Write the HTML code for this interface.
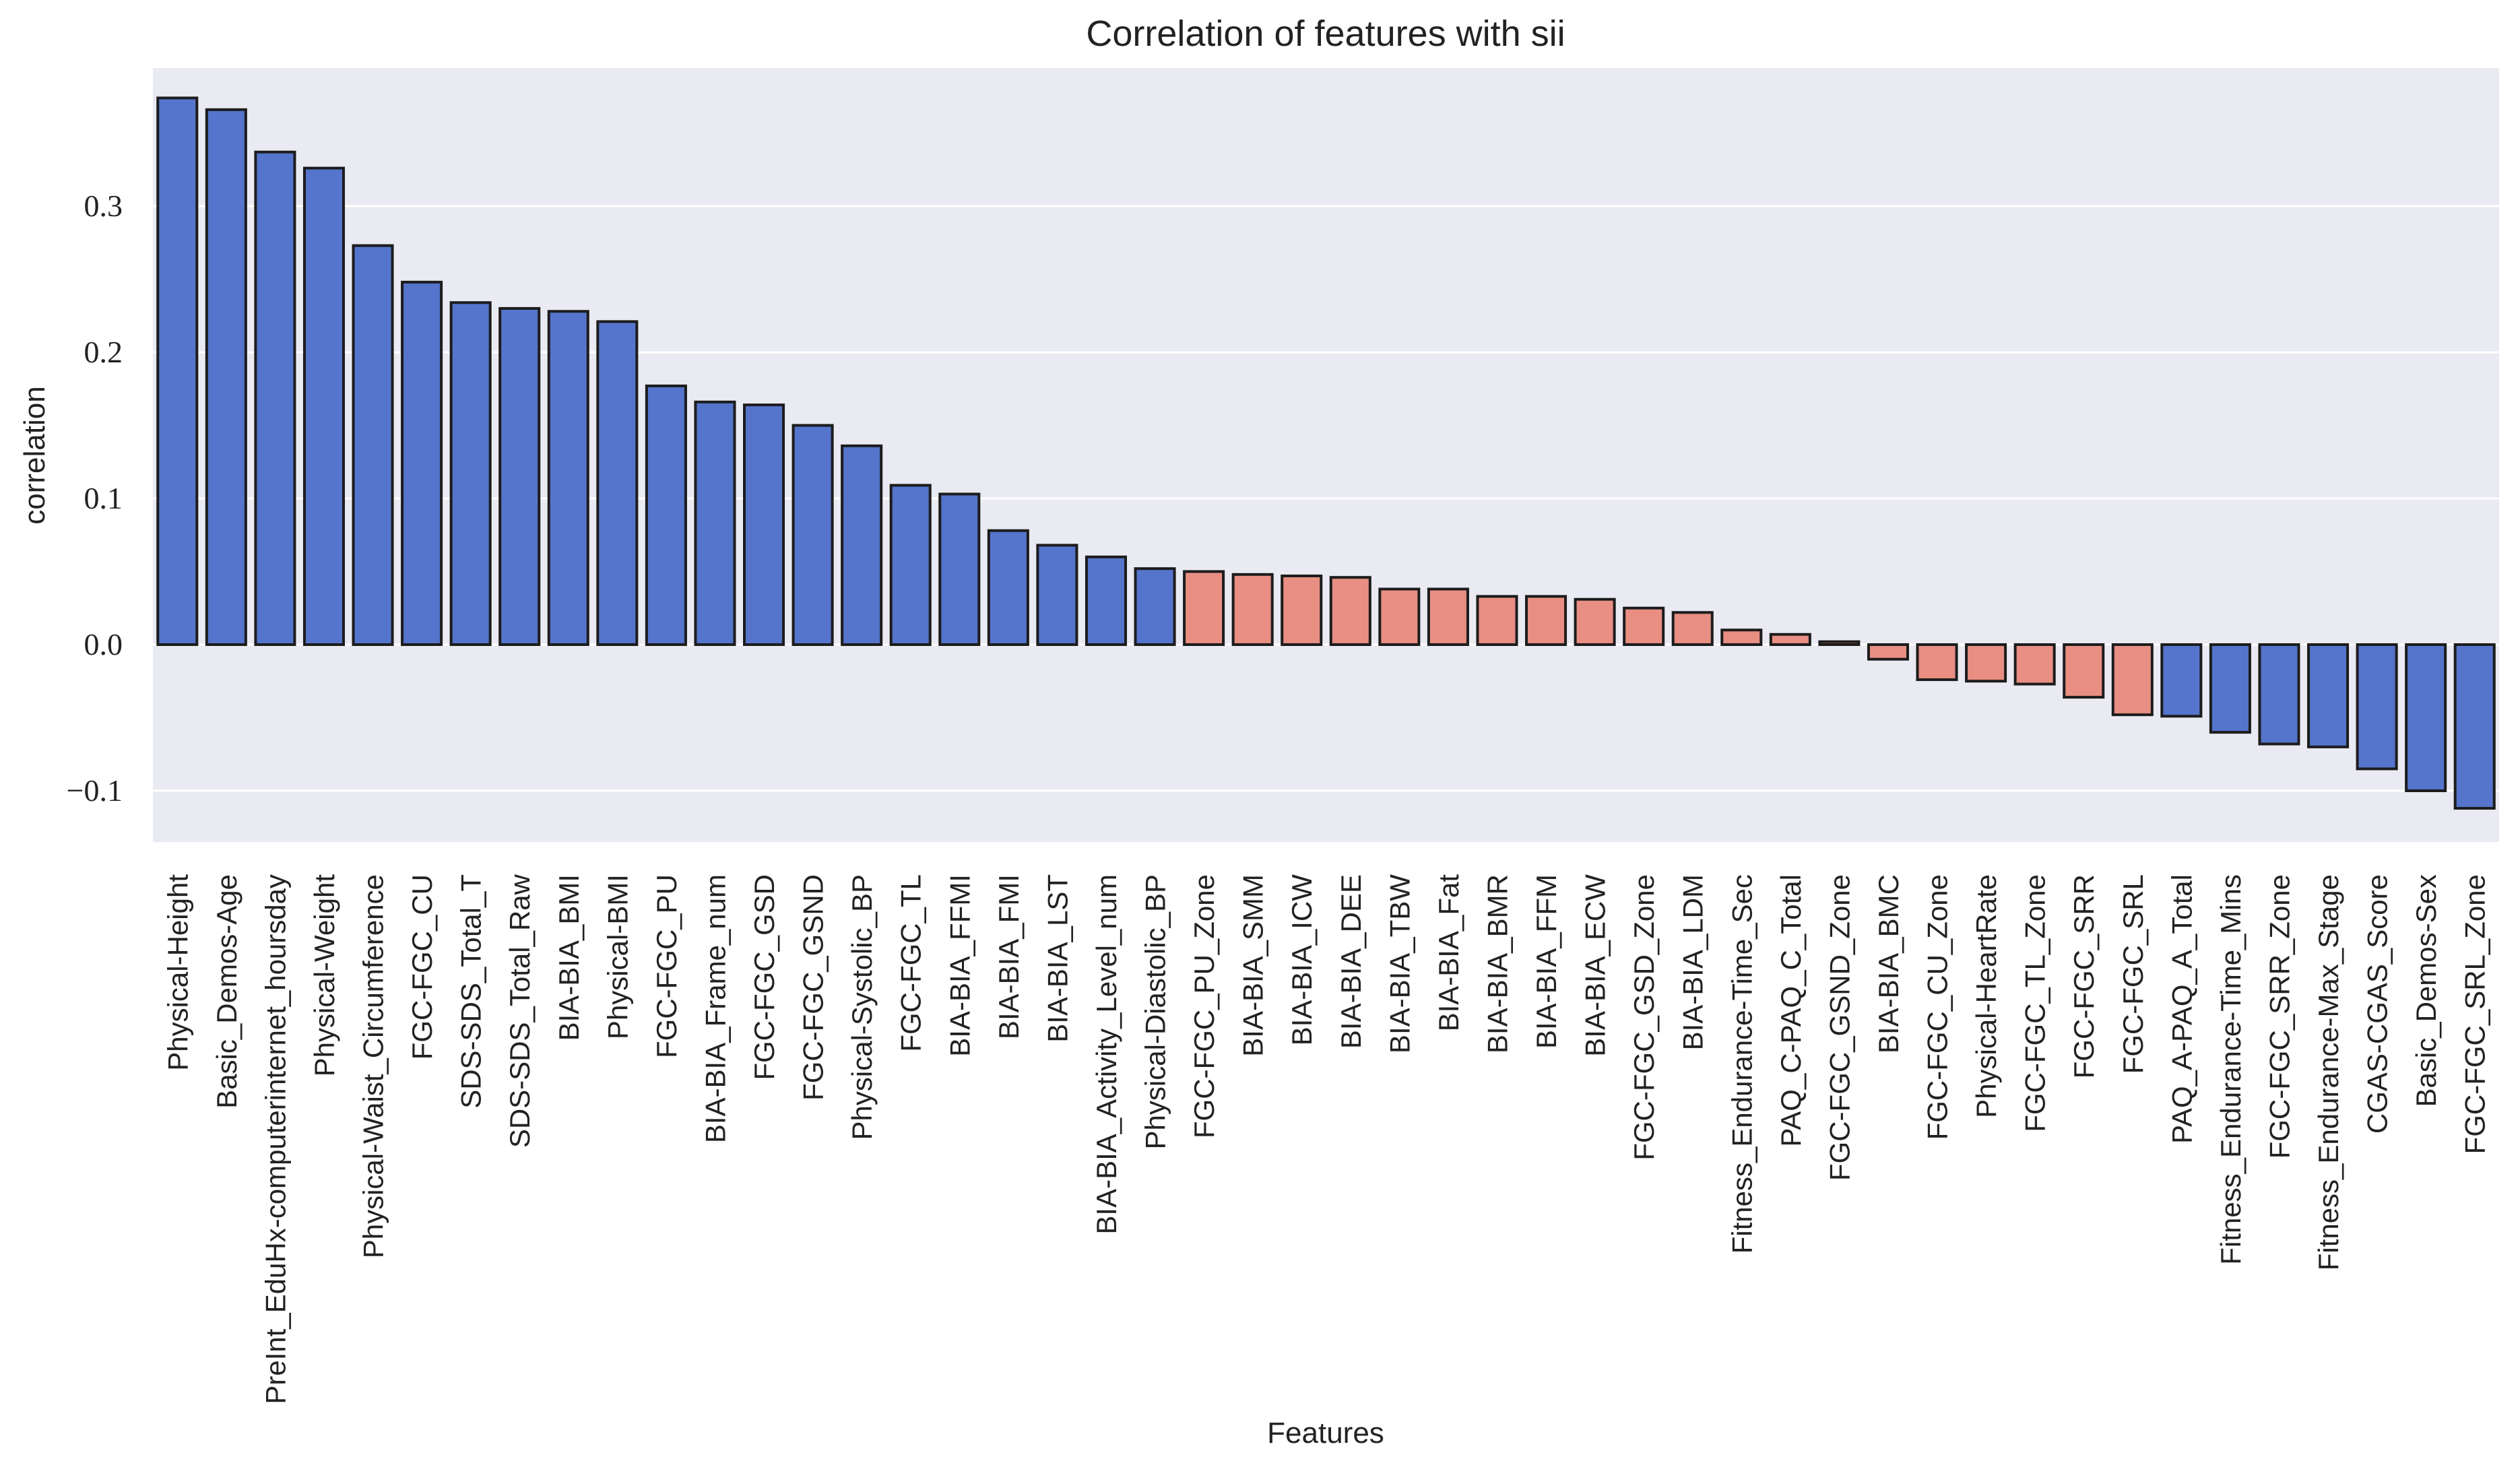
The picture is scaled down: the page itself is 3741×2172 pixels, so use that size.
<!DOCTYPE html>
<html><head><meta charset="utf-8"><style>
html,body{margin:0;padding:0;background:#fff;}
svg{display:block;}
</style></head><body>
<svg id="chart" width="3741" height="2172" viewBox="0 0 3741 2172" xmlns="http://www.w3.org/2000/svg">
<rect x="227" y="101" width="3483" height="1149" fill="#EAEAF2"/>
<g id="grid"></g>
<g id="bars"></g>
<g id="xticks"></g>
<g id="yticks"></g>
<text x="1968" y="68" text-anchor="middle" font-family="Liberation Sans, sans-serif" font-size="54" fill="#222">Correlation of features with sii</text>
<text x="1968" y="2142" text-anchor="middle" font-family="Liberation Sans, sans-serif" font-size="44" fill="#222">Features</text>
<text transform="translate(66,676) rotate(-90)" text-anchor="middle" font-family="Liberation Sans, sans-serif" font-size="44" fill="#222">correlation</text>
</svg>
<script>
const categories = ["Physical-Height","Basic_Demos-Age","PreInt_EduHx-computerinternet_hoursday","Physical-Weight","Physical-Waist_Circumference","FGC-FGC_CU","SDS-SDS_Total_T","SDS-SDS_Total_Raw","BIA-BIA_BMI","Physical-BMI","FGC-FGC_PU","BIA-BIA_Frame_num","FGC-FGC_GSD","FGC-FGC_GSND","Physical-Systolic_BP","FGC-FGC_TL","BIA-BIA_FFMI","BIA-BIA_FMI","BIA-BIA_LST","BIA-BIA_Activity_Level_num","Physical-Diastolic_BP","FGC-FGC_PU_Zone","BIA-BIA_SMM","BIA-BIA_ICW","BIA-BIA_DEE","BIA-BIA_TBW","BIA-BIA_Fat","BIA-BIA_BMR","BIA-BIA_FFM","BIA-BIA_ECW","FGC-FGC_GSD_Zone","BIA-BIA_LDM","Fitness_Endurance-Time_Sec","PAQ_C-PAQ_C_Total","FGC-FGC_GSND_Zone","BIA-BIA_BMC","FGC-FGC_CU_Zone","Physical-HeartRate","FGC-FGC_TL_Zone","FGC-FGC_SRR","FGC-FGC_SRL","PAQ_A-PAQ_A_Total","Fitness_Endurance-Time_Mins","FGC-FGC_SRR_Zone","Fitness_Endurance-Max_Stage","CGAS-CGAS_Score","Basic_Demos-Sex","FGC-FGC_SRL_Zone"];
const values = [0.374,0.366,0.337,0.326,0.273,0.248,0.234,0.230,0.228,0.221,0.177,0.166,0.164,0.150,0.136,0.109,0.103,0.078,0.068,0.060,0.052,0.050,0.048,0.047,0.046,0.038,0.038,0.033,0.033,0.031,0.025,0.022,0.010,0.007,0.002,-0.010,-0.024,-0.025,-0.027,-0.036,-0.048,-0.049,-0.060,-0.068,-0.070,-0.085,-0.100,-0.112];
const colorGroup = ["b","b","b","b","b","b","b","b","b","b","b","b","b","b","b","b","b","b","b","b","b","s","s","s","s","s","s","s","s","s","s","s","s","s","s","s","s","s","s","s","s","b","b","b","b","b","b","b"];
const yTicks = [-0.1,0.0,0.1,0.2,0.3];
const yTickLabels = ["\u22120.1","0.0","0.1","0.2","0.3"];

const NS="http://www.w3.org/2000/svg";
const L=227,R=3710,T=101,B=1250;
const y0=957, pxPer=2170;
function yScale(v){return y0 - v*pxPer;}
const slot=(R-L)/categories.length;
function xScale(i){return L + slot*(i+0.5);}
function mk(tag,attrs,parent){const e=document.createElementNS(NS,tag);for(const k in attrs)e.setAttribute(k,attrs[k]);parent.appendChild(e);return e;}
const grid=document.getElementById('grid'),bars=document.getElementById('bars'),xt=document.getElementById('xticks'),yt=document.getElementById('yticks');
yTicks.forEach((v,i)=>{
  const g=mk('line',{x1:L,x2:R,y1:yScale(v),y2:yScale(v),stroke:'#fff','stroke-width':3},grid);
  
  
  const t=mk('text',{x:182,y:yScale(v)+15,'text-anchor':'end','font-family':'Liberation Serif, serif','font-size':46,fill:'#222'},yt);
  t.textContent=yTickLabels[i];
  
  
});
categories.forEach((c,i)=>{
  const v=values[i];
  const bw=slot*0.8;
  const top=Math.min(yScale(v),y0), h=Math.max(Math.abs(yScale(v)-y0),1.5);
  const r=mk('rect',{x:xScale(i)-bw/2,y:top,width:bw,height:h,fill:colorGroup[i]==='b'?'#5574CB':'#E88E83',stroke:'#1c1c1c','stroke-width':4},bars);
  
  
  const t=mk('text',{transform:'translate('+(xScale(i)+15)+',1298) rotate(-90)','text-anchor':'end','font-family':'Liberation Sans, sans-serif','font-size':42,fill:'#222'},xt);
  t.textContent=c;
  
  
});
</script>
</body></html>
